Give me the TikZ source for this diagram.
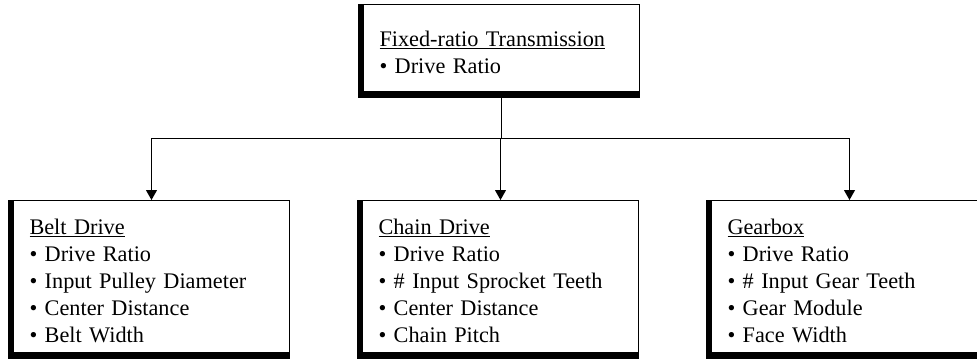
\documentclass[tikz,border=0pt]{standalone}
\usepackage{fontspec}
\setmainfont{Liberation Serif}
\usetikzlibrary{arrows.meta,positioning,backgrounds}

\newcommand{\boxhead}[1]{\rule{0pt}{18pt}\underline{#1}}

\begin{document}
\begin{tikzpicture}
	[x=0.75pt,y=-0.75pt,
	box/.style={rectangle,draw=black,line width=0.75pt,fill=white,anchor=north west,
		text width=183pt,inner xsep=12pt,inner ysep=0pt,align=left,
		minimum height=114pt,font=\fontsize{16.7}{20.3}\selectfont},
	topbox/.style={box,minimum height=65.25pt},
	link/.style={black,line width=0.75pt},
	arr/.style={link,-{Triangle[length=7.5pt,width=8.25pt]}}]
	\useasboundingbox (0,0) rectangle (977,360);
	%caja superior
	\node[topbox] (trans) at (363,4) {\boxhead{Fixed-ratio Transmission}\\
		• Drive Ratio};
	%cajas inferiores
	\node[box] (belt) at (13,200) {\boxhead{Belt Drive}\\
		• Drive Ratio\\
		• Input Pulley Diameter\\
		• Center Distance\\
		• Belt Width};
	\node[box] (chain) at (362,200) {\boxhead{Chain Drive}\\
		• Drive Ratio\\
		• \# Input Sprocket Teeth\\
		• Center Distance\\
		• Chain Pitch};
	\node[box] (gear) at (711,200) {\boxhead{Gearbox}\\
		• Drive Ratio\\
		• \# Input Gear Teeth\\
		• Gear Module\\
		• Face Width};
	%sombras
	\begin{scope}[on background layer]
		\foreach \n in {trans,belt,chain,gear}
			\fill[black] ([xshift=-3.75pt]\n.north west) rectangle ([yshift=-4.5pt]\n.south east);
	\end{scope}
	%conectores
	\coordinate (split) at (trans.south |- 0,138);
	\draw[link] (trans.south) -- (split);
	\draw[arr] (split) -| (belt.north);
	\draw[arr] (split) -| (chain.north);
	\draw[arr] (split) -| (gear.north);
\end{tikzpicture}
\end{document}
